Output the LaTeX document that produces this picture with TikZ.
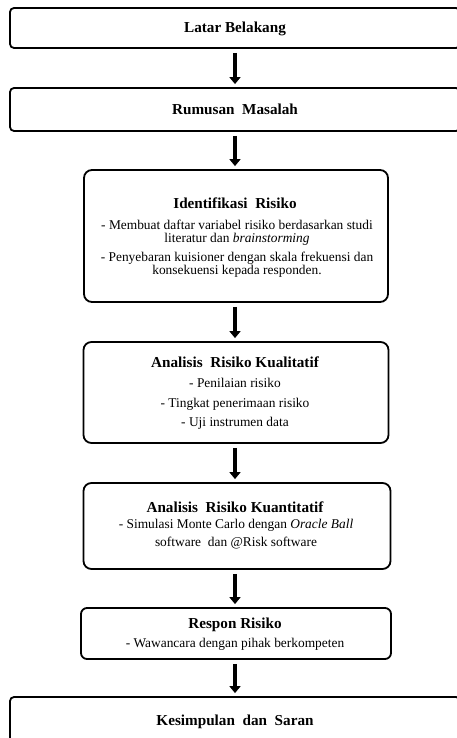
\documentclass[tikz,border=0pt]{standalone}
\usepackage{fontspec}
\setmainfont{Liberation Serif}
\usetikzlibrary{arrows.meta}
\tikzset{
  box/.style={draw=black, line width=1.8pt, rounded corners=#1, fill=white, inner sep=0pt},
  box/.default=5pt,
  ttl/.style={anchor=base, inner sep=0pt, font=\fontsize{15.2}{18}\selectfont\bfseries},
  txt/.style={anchor=base, inner sep=0pt, font=\fontsize{13.4}{15}\selectfont},
  arr/.style={line width=4pt, -{Triangle[width=11pt,length=7pt]}, shorten <=4pt, shorten >=3pt}
}
\begin{document}
\begin{tikzpicture}[x=1pt,y=-1pt]
\useasboundingbox[fill=white] (0,0) rectangle (457,738);
% boxes
\node[box=4pt, minimum width=450pt, minimum height=40pt] (b1) at (235,28) {};
\node[box=4pt, minimum width=450pt, minimum height=43pt] (b2) at (235,109.5) {};
\node[box=8pt, minimum width=304pt, minimum height=132pt] (b3) at (236,236) {};
\node[box=8pt, minimum width=305pt, minimum height=101pt] (b4) at (236,392.5) {};
\node[box=8pt, minimum width=307pt, minimum height=86pt] (b5) at (237,526) {};
\node[box=6pt, minimum width=310pt, minimum height=51pt] (b6) at (236,633.5) {};
\node[box=4pt, minimum width=450pt, minimum height=70pt] (b7) at (235,732) {};
% texts
\node[ttl] (t1) at (235,33) {Latar Belakang};
\node[ttl] (t2) at (235,115) {Rumusan~ Masalah};
\node[ttl] (t3) at (235,208) {Identifikasi~ Risiko};
\node[txt] (t3a) at (237,229) {- Membuat daftar variabel risiko berdasarkan studi};
\node[txt] (t3b) at (237,242) {literatur dan \textit{brainstorming}};
\node[txt] (t3c) at (237,261) {- Penyebaran kuisioner dengan skala frekuensi dan};
\node[txt] (t3d) at (237,274) {konsekuensi kepada responden.};
\node[ttl] (t4) at (235,367) {Analisis~ Risiko Kualitatif};
\node[txt] (t4a) at (235,387) {- Penilaian risiko};
\node[txt] (t4b) at (235,407) {- Tingkat penerimaan risiko};
\node[txt] (t4c) at (235,426) {- Uji instrumen data};
\node[ttl] (t5) at (235,512) {Analisis~ Risiko Kuantitatif};
\node[txt] (t5a) at (236,528) {- Simulasi Monte Carlo dengan \textit{Oracle Ball}};
\node[txt] (t5b) at (236,546) {software~ dan @Risk software};
\node[ttl] (t6) at (235,628) {Respon Risiko};
\node[txt] (t6a) at (235,647) {- Wawancara dengan pihak berkompeten};
\node[ttl] (t7) at (235,725) {Kesimpulan~ dan~ Saran};
% arrows
\draw[arr] (b1.south) -- (b1.south |- b2.north);
\draw[arr] (b2.south) -- (b2.south |- b3.north);
\draw[arr] (b1.south |- b3.south) -- (b1.south |- b4.north);
\draw[arr] (b1.south |- b4.south) -- (b1.south |- b5.north);
\draw[arr] (b1.south |- b5.south) -- (b1.south |- b6.north);
\draw[arr] (b1.south |- b6.south) -- (b1.south |- b7.north);
\end{tikzpicture}
\end{document}
